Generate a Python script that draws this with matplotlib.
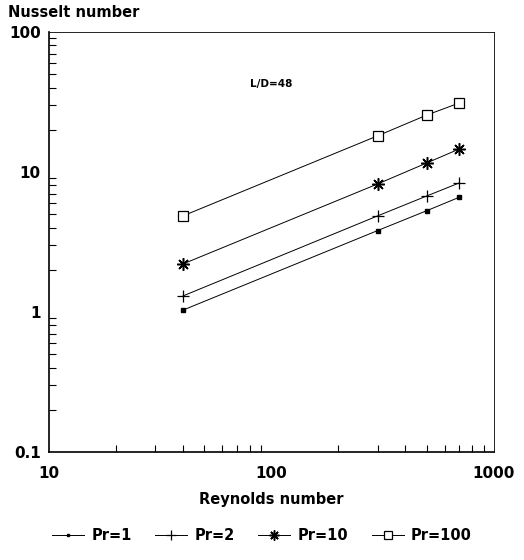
import matplotlib
matplotlib.use("Agg")
import matplotlib.pyplot as plt
from matplotlib.ticker import LogLocator, NullFormatter, FixedLocator, FixedFormatter

plt.rcParams['font.family'] = ['DejaVu Sans']
plt.rcParams['font.weight'] = 'bold'

# data
reynolds = [40, 300, 500, 700]
nu_pr1 = [1.03, 3.81, 5.29, 6.6]
nu_pr2 = [1.30, 4.85, 6.74, 8.35]
nu_pr10 = [2.2, 8.2, 11.6, 14.6]
nu_pr100 = [4.85, 18.1, 25.5, 31.1]
labels = ['Pr=1', 'Pr=2', 'Pr=10', 'Pr=100']

fig = plt.figure(figsize=(5.24, 5.6), dpi=100)
ax = fig.add_axes([0.0935, 0.193, 0.849, 0.750])

ax.plot(reynolds, nu_pr1, color='black', lw=0.7, marker='s', ms=2.5, label=labels[0])
ax.plot(reynolds, nu_pr2, color='black', lw=0.7, marker='+', ms=9, mew=0.9, label=labels[1])
ax.plot(reynolds, nu_pr10, color='black', lw=0.7, marker=(8, 2, 0), ms=9, mew=1.1, label=labels[2])
ax.plot(reynolds, nu_pr100, color='black', lw=0.7, marker='s', ms=6.5, mfc='white', mew=0.9, label=labels[3])

ax.set_xscale('log')
ax.set_yscale('log')
ax.set_xlim(10, 1000)
ax.set_ylim(0.1, 100)

ax.xaxis.set_major_locator(FixedLocator([10, 100, 1000]))
ax.xaxis.set_major_formatter(FixedFormatter(['10', '100', '1000']))
ax.yaxis.set_major_locator(FixedLocator([0.1, 1, 10, 100]))
ax.yaxis.set_major_formatter(FixedFormatter(['0.1', '1', '10', '100']))
ax.xaxis.set_minor_locator(LogLocator(base=10, subs=range(2, 10)))
ax.yaxis.set_minor_locator(LogLocator(base=10, subs=range(2, 10)))
ax.xaxis.set_minor_formatter(NullFormatter())
ax.yaxis.set_minor_formatter(NullFormatter())
ax.tick_params(which='both', direction='in', top=False, right=False, labelsize=11, width=0.8)
ax.tick_params(which='major', length=0)
ax.tick_params(axis='y', which='major', pad=6)
ax.tick_params(axis='x', which='major', pad=10)
ax.tick_params(which='minor', length=5)
for lab in ax.get_xticklabels() + ax.get_yticklabels():
    lab.set_fontweight('bold')

for side in ['top', 'right']:
    ax.spines[side].set_linewidth(0.6)
    ax.spines[side].set_linestyle((0, (6, 1)))
for side in ['left', 'bottom']:
    ax.spines[side].set_linewidth(1.2)

ax.set_xlabel('Reynolds number', fontsize=10.5, fontweight='bold', labelpad=8)
fig.text(0.015, 0.965, 'Nusselt number', fontsize=10.5, fontweight='bold', ha='left', va='bottom')
ax.text(0.5, 0.87, 'L/D=48', transform=ax.transAxes, fontsize=7.5, fontweight='bold', ha='center')

fig.legend(loc='center', bbox_to_anchor=(0.5, 0.043), ncol=4, frameon=False,
           prop={'weight': 'bold', 'size': 10.5}, handlelength=2.2, markerscale=0.8,
           columnspacing=1.6, handletextpad=0.5)

fig.savefig('out.png', dpi=100)
